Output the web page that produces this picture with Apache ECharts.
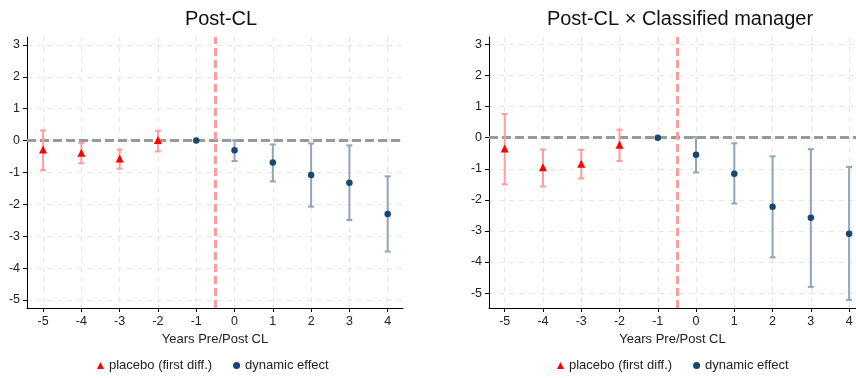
<!DOCTYPE html>
<html>
<head>
<meta charset="utf-8">
<script src="https://cdn.jsdelivr.net/npm/echarts@6/dist/echarts.min.js"></script>
<style>
  html, body { margin: 0; padding: 0; background: #fff; }
  #chart { width: 856px; height: 378px; }
</style>
</head>
<body>
<div id="chart"></div>
<script>
// tick labels
const xTicks = [-5, -4, -3, -2, -1, 0, 1, 2, 3, 4]
const yTicks = [-5, -4, -3, -2, -1, 0, 1, 2, 3]

// Post-CL
const leftPlaceboYears = [-5, -4, -3, -2]
const leftPlacebo = [-0.28, -0.38, -0.56, 0.02]
const leftPlaceboLo = [-0.93, -0.71, -0.88, -0.34]
const leftPlaceboHi = [0.32, -0.08, -0.28, 0.31]
const leftDynYears = [-1, 0, 1, 2, 3, 4]
const leftDyn = [0, -0.30, -0.69, -1.08, -1.32, -2.30]
const leftDynLo = [null, -0.64, -1.28, -2.07, -2.49, -3.48]
const leftDynHi = [null, 0.01, -0.12, -0.09, -0.15, -1.12]

// Post-CL x Classified manager
const rightPlaceboYears = [-5, -4, -3, -2]
const rightPlacebo = [-0.35, -0.95, -0.84, -0.23]
const rightPlaceboLo = [-1.50, -1.57, -1.31, -0.75]
const rightPlaceboHi = [0.76, -0.38, -0.39, 0.26]
const rightDynYears = [-1, 0, 1, 2, 3, 4]
const rightDyn = [0, -0.55, -1.16, -2.22, -2.58, -3.09]
const rightDynLo = [null, -1.12, -2.12, -3.85, -4.80, -5.22]
const rightDynHi = [null, 0.02, -0.18, -0.60, -0.37, -0.94]

const FONT = 'Liberation Sans, Arial, sans-serif'
const RED = '#ff0000'
const RED_CI = '#ff9c9c'
const NAVY = '#1a476f'
const NAVY_CI = '#8fa5bb'

const chart = echarts.init(document.getElementById('chart'))

const zip = (xs, ys) => xs.map((x, i) => [x, ys[i]])
const zipCI = (xs, lo, hi) => xs.map((x, i) => [x, lo[i], hi[i]]).filter(d => d[1] !== null)

function errorBar(color) {
    return function (params, api) {
        const x = api.value(0)
        const lo = api.coord([x, api.value(1)])
        const hi = api.coord([x, api.value(2)])
        const cap = 3
        const style = { stroke: color, lineWidth: 2 }
        return {
            type: 'group',
            children: [
                { type: 'line', shape: { x1: lo[0], y1: lo[1], x2: hi[0], y2: hi[1] }, style },
                { type: 'line', shape: { x1: lo[0] - cap, y1: lo[1], x2: lo[0] + cap, y2: lo[1] }, style },
                { type: 'line', shape: { x1: hi[0] - cap, y1: hi[1], x2: hi[0] + cap, y2: hi[1] }, style }
            ]
        }
    }
}

function xAxisFor(idx, min, max) {
    return {
        type: 'value', gridIndex: idx, min, max,
        name: 'Years Pre/Post CL', nameLocation: 'middle', nameGap: 23,
        nameTextStyle: { fontFamily: FONT, fontSize: 13, color: '#222' },
        axisLine: { onZero: false, lineStyle: { color: '#000', width: 1 } },
        axisTick: { show: true, length: 4, customValues: xTicks, lineStyle: { color: '#000' } },
        axisLabel: { customValues: xTicks, margin: 7, fontFamily: FONT, fontSize: 12.5, color: '#222' },
        splitLine: { show: true, lineStyle: { color: '#e6e6e6', type: [5, 5], width: 1 } }
    }
}

function yAxisFor(idx, min, max) {
    return {
        type: 'value', gridIndex: idx, min, max,
        axisLine: { show: true, onZero: false, lineStyle: { color: '#000', width: 1 } },
        axisTick: { show: true, length: 4, customValues: yTicks, lineStyle: { color: '#000' } },
        axisLabel: { customValues: yTicks, margin: 7, fontFamily: FONT, fontSize: 12.5, color: '#222' },
        splitLine: { show: true, lineStyle: { color: '#e6e6e6', type: [5, 5], width: 1 } }
    }
}

function panelSeries(idx, pYears, p, pLo, pHi, dYears, d, dLo, dHi) {
    return [
        {
            name: 'placebo ci ' + idx, type: 'custom', xAxisIndex: idx, yAxisIndex: idx,
            renderItem: errorBar(RED_CI), data: zipCI(pYears, pLo, pHi), z: 3,
            markLine: {
                silent: true, symbol: 'none', label: { show: false }, z: 2,
                data: [
                    { yAxis: 0, lineStyle: { color: '#999', width: 3, type: [9, 4] } },
                    { xAxis: -0.5, lineStyle: { color: '#ff9c9c', width: 3, type: [8, 4] } }
                ]
            }
        },
        {
            name: 'dynamic ci ' + idx, type: 'custom', xAxisIndex: idx, yAxisIndex: idx,
            renderItem: errorBar(NAVY_CI), data: zipCI(dYears, dLo, dHi), z: 3
        },
        {
            name: 'placebo (first diff.)', type: 'scatter', xAxisIndex: idx, yAxisIndex: idx,
            symbol: 'triangle', symbolSize: 8, itemStyle: { color: RED, opacity: 1 },
            data: zip(pYears, p), z: 4
        },
        {
            name: 'dynamic effect', type: 'scatter', xAxisIndex: idx, yAxisIndex: idx,
            symbol: 'circle', symbolSize: 6.5, itemStyle: { color: NAVY, opacity: 1 },
            data: zip(dYears, d), z: 4
        }
    ]
}

function legendFor(left) {
    return {
        left, top: 359, padding: 0, itemWidth: 7, itemHeight: 7, itemGap: 21,
        textStyle: { fontFamily: FONT, fontSize: 13, color: '#222' },
        data: [
            { name: 'placebo (first diff.)', icon: 'triangle' },
            { name: 'dynamic effect', icon: 'circle', itemStyle: { borderWidth: 0 } }
        ]
    }
}

const option = {
    animation: false,
    backgroundColor: '#fff',
    title: [
        { text: 'Post-CL', left: 216, top: 4, textAlign: 'center',
          textStyle: { fontFamily: FONT, fontSize: 20, fontWeight: 'normal', color: '#111' } },
        { text: 'Post-CL \u00d7 Classified manager', left: 675, top: 4, textAlign: 'center',
          textStyle: { fontFamily: FONT, fontSize: 20, fontWeight: 'normal', color: '#111' } }
    ],
    legend: [legendFor(97), legendFor(557)],
    grid: [
        { left: 27, top: 37, width: 376, height: 271, containLabel: false },
        { left: 489, top: 37, width: 367, height: 271, containLabel: false }
    ],
    xAxis: [xAxisFor(0, -5.42, 4.40), xAxisFor(1, -5.41, 4.18)],
    yAxis: [yAxisFor(0, -5.25, 3.25), yAxisFor(1, -5.48, 3.24)],
    series: [
        ...panelSeries(0, leftPlaceboYears, leftPlacebo, leftPlaceboLo, leftPlaceboHi,
            leftDynYears, leftDyn, leftDynLo, leftDynHi),
        ...panelSeries(1, rightPlaceboYears, rightPlacebo, rightPlaceboLo, rightPlaceboHi,
            rightDynYears, rightDyn, rightDynLo, rightDynHi)
    ]
}

chart.setOption(option)
</script>
</body>
</html>
